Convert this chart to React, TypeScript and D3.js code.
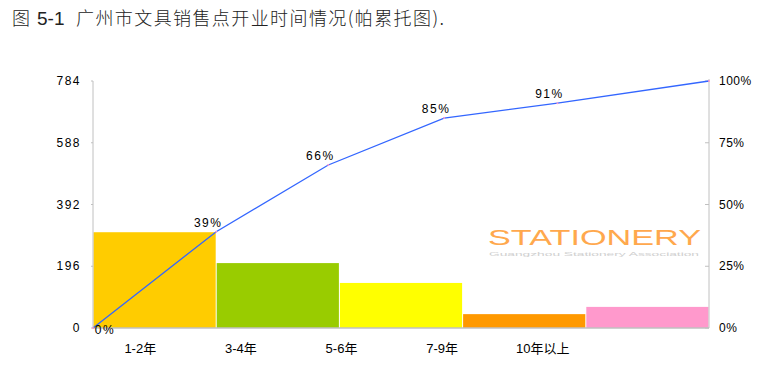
import { useEffect, useRef } from "react";
import * as d3 from "d3";

const categories = ["1-2年", "3-4年", "5-6年", "7-9年", "10年以上"];
const counts = [304, 206, 143, 44, 67];
const barColors = ["#ffcc00", "#99cc00", "#ffff00", "#ff9900", "#ff99cc"];
// cumulative line: x in category units, percent value
const cumX = [0, 1, 1.91, 2.85, 3.77, 5];
const cumPct = [0, 39, 66, 85, 91, 100];
const leftTicks = [0, 196, 392, 588, 784];
const rightTicks = [0, 25, 50, 75, 100];

const W = 778;
const H = 389;
const FONT = "'Liberation Sans', Arial, 'Noto Sans CJK SC', sans-serif";

export default function App() {
  const svgRef = useRef<SVGSVGElement>(null);

  useEffect(() => {
    if (!svgRef.current) return;
    const svg = d3.select(svgRef.current);
    svg.selectAll("*").remove();

    const left = 93;
    const right = 709;
    const top = 81;
    const bottom = 328;

    const x = d3
      .scaleBand<string>()
      .domain(categories)
      .range([left, right])
      .padding(0);
    const xLin = d3.scaleLinear().domain([0, 5]).range([left, right]);
    // category labels sit on their own narrower axis in the original
    const xLabel = d3
      .scaleBand<string>()
      .domain(categories)
      .range([90, 593]);
    const y = d3.scaleLinear().domain([0, 784]).range([bottom, top]);
    const yPct = d3.scaleLinear().domain([0, 100]).range([bottom, top]);

    svg.append("rect").attr("width", W).attr("height", H).attr("fill", "#fff");

    // Title
    const title = svg
      .append("text")
      .attr("y", 25)
      .attr("font-size", "18px")
      .attr("fill", "#222")
      .attr("font-family", "'Noto Sans CJK SC', sans-serif");
    title.append("tspan").attr("x", 12).attr("font-weight", 300).text("图");
    title
      .append("tspan")
      .attr("x", 37)
      .attr("font-family", FONT)
      .attr("font-size", "19px")
      .text("5-1");
    title
      .append("tspan")
      .attr("x", 76)
      .attr("font-weight", 300)
      .attr("textLength", 368)
      .attr("lengthAdjust", "spacing")
      .text("广州市文具销售点开业时间情况(帕累托图).");

    // Bars
    svg
      .append("g")
      .selectAll("rect")
      .data(counts)
      .join("rect")
      .attr("x", (_, i) => x(categories[i])! + 0.5)
      .attr("y", (d) => y(d))
      .attr("width", x.bandwidth() - 1)
      .attr("height", (d) => bottom - y(d))
      .attr("fill", (_, i) => barColors[i]);

    // Axes lines
    const axisColor = "#c0c0c0";
    svg
      .append("line")
      .attr("x1", left)
      .attr("x2", left)
      .attr("y1", top)
      .attr("y2", bottom)
      .attr("stroke", axisColor);
    svg
      .append("line")
      .attr("x1", right)
      .attr("x2", right)
      .attr("y1", top - 2)
      .attr("y2", bottom)
      .attr("stroke", axisColor);
    svg
      .append("line")
      .attr("x1", left)
      .attr("x2", right)
      .attr("y1", bottom)
      .attr("y2", bottom)
      .attr("stroke", axisColor)
      .attr("stroke-width", 1.5);

    // Left ticks and labels
    leftTicks.forEach((t) => {
      svg
        .append("line")
        .attr("x1", left - 2)
        .attr("x2", left)
        .attr("y1", y(t))
        .attr("y2", y(t))
        .attr("stroke", axisColor);
      svg
        .append("text")
        .attr("x", 81)
        .attr("y", y(t) + 4)
        .attr("text-anchor", "end")
        .attr("font-size", "12px")
        .attr("letter-spacing", "1.5px")
        .attr("font-family", FONT)
        .attr("fill", "#000")
        .text(String(t));
    });

    // Right ticks and labels
    rightTicks.forEach((t) => {
      svg
        .append("line")
        .attr("x1", right - 4)
        .attr("x2", right)
        .attr("y1", yPct(t))
        .attr("y2", yPct(t))
        .attr("stroke", axisColor);
      svg
        .append("text")
        .attr("x", 719)
        .attr("y", yPct(t) + 4)
        .attr("font-size", "12px")
        .attr("letter-spacing", "0.5px")
        .attr("font-family", FONT)
        .attr("fill", "#000")
        .text(`${t}%`);
    });

    // Category labels
    categories.forEach((c) => {
      svg
        .append("text")
        .attr("x", xLabel(c)! + xLabel.bandwidth() / 2)
        .attr("y", 353)
        .attr("text-anchor", "middle")
        .attr("font-size", "13px")
        .attr("font-family", FONT)
        .attr("fill", "#000")
        .text(c);
    });

    // Watermark
    const wm = svg.append("g").attr("opacity", 0.85);
    wm.append("text")
      .attr("x", 488)
      .attr("y", 245)
      .attr("font-size", "22px")
      .attr("font-family", FONT)
      .attr("fill", "#ff9a2e")
      .attr("textLength", 213)
      .attr("lengthAdjust", "spacingAndGlyphs")
      .text("STATIONERY");
    wm.append("text")
      .attr("x", 489)
      .attr("y", 256)
      .attr("font-size", "5px")
      .attr("font-family", FONT)
      .attr("fill", "#c8c8c8")
      .attr("textLength", 210)
      .attr("lengthAdjust", "spacingAndGlyphs")
      .text("Guangzhou   Stationery   Association");

    // Cumulative line
    const pts = cumX.map((v, i) => [xLin(v), yPct(cumPct[i])] as [number, number]);
    svg
      .append("path")
      .attr("d", d3.line()(pts))
      .attr("fill", "none")
      .attr("stroke", "#3366ff")
      .attr("stroke-width", 1.3);
    svg
      .append("g")
      .selectAll("circle")
      .data(pts)
      .join("circle")
      .attr("cx", (d) => d[0])
      .attr("cy", (d) => d[1])
      .attr("r", 1)
      .attr("fill", "#ff99cc");

    // Percent labels
    pts.forEach((p, i) => {
      const first = i === 0;
      const last = i === pts.length - 1;
      if (last) return;
      svg
        .append("text")
        .attr("x", first ? p[0] + 12 : p[0] - 8)
        .attr("y", first ? p[1] + 6 : p[1] - 5)
        .attr("text-anchor", "middle")
        .attr("font-size", "12px")
        .attr("letter-spacing", "1.5px")
        .attr("font-family", FONT)
        .attr("fill", "#000")
        .text(`${cumPct[i]}%`);
    });
  }, []);

  return (
    <svg
      ref={svgRef}
      width={W}
      height={H}
      style={{ position: "absolute", left: 0, top: 0 }}
    />
  );
}
